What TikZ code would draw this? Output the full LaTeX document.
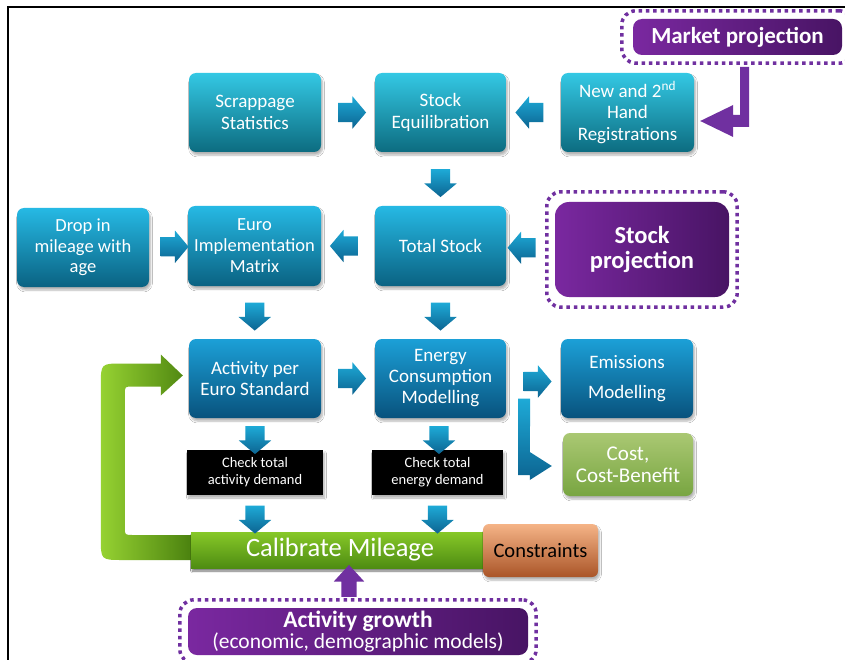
\documentclass[tikz,border=0pt]{standalone}
\usepackage{fontspec}
\setmainfont{Carlito}
\usetikzlibrary{shapes.arrows,shadows.blur,calc,fit}

\definecolor{tealT}{RGB}{52,200,228}
\definecolor{tealB}{RGB}{12,108,128}
\definecolor{midT}{RGB}{38,185,228}
\definecolor{midB}{RGB}{10,98,130}
\definecolor{bluT}{RGB}{28,160,215}
\definecolor{bluB}{RGB}{8,82,125}
\definecolor{arrT}{RGB}{30,170,215}
\definecolor{arrB}{RGB}{12,100,145}
\definecolor{costT}{RGB}{170,200,115}
\definecolor{costB}{RGB}{120,165,65}
\definecolor{conT}{RGB}{245,180,135}
\definecolor{conB}{RGB}{170,85,40}
\definecolor{calT}{RGB}{135,200,40}
\definecolor{calB}{RGB}{78,140,18}
\definecolor{gL}{RGB}{150,210,50}
\definecolor{gD}{RGB}{75,130,15}
\definecolor{purL}{RGB}{122,40,160}
\definecolor{purD}{RGB}{72,20,100}
\definecolor{purDot}{RGB}{112,48,160}

\tikzset{
  softshadow/.style={blur shadow={shadow xshift=1.5pt, shadow yshift=-3pt,
      shadow blur steps=6, shadow opacity=30}},
  boxbase/.style={rounded corners=7pt, align=center, text=white, inner sep=2pt,
      font=\fontsize{19}{21.5}\selectfont, minimum width=132pt,
      minimum height=79pt, softshadow},
  tealbox/.style={boxbase, top color=tealT, bottom color=tealB},
  midbox/.style={boxbase, top color=midT, bottom color=midB},
  bluebox/.style={boxbase, top color=bluT, bottom color=bluB},
  checkbox/.style={fill=black, text=white, align=center, inner sep=2pt,
      minimum width=136pt, minimum height=45pt,
      font=\fontsize{14.5}{17}\selectfont, softshadow},
  purplebox/.style={rounded corners=9pt, left color=purL, right color=purD,
      text=white, align=center, inner sep=2pt},
  dotframe/.style={draw=purDot, line width=3.5pt,
      dash pattern=on 3.5pt off 3.8pt, rounded corners=14pt},
  barrow/.style={single arrow, single arrow head extend=6.5pt,
      single arrow tip angle=100, minimum height=28pt,
      inner xsep=0pt, inner ysep=9.5pt, top color=arrT, bottom color=arrB},
  parrow/.style={single arrow, single arrow head extend=7.5pt,
      single arrow tip angle=85, minimum height=32pt,
      inner xsep=0pt, inner ysep=7.5pt, fill=purDot},
  calbar/.style={top color=calT, bottom color=calB, text=white,
      minimum width=298pt, minimum height=36pt, inner sep=0pt,
      font=\fontsize{26.5}{28}\selectfont, softshadow},
}

\begin{document}
\begin{tikzpicture}[x=1pt,y=-1pt]
\clip (0,0) rectangle (845,660);
\fill[white] (0,0) rectangle (845,660);

% frame lines
\draw[line width=1.8pt] (8,662) -- (8,7) -- (847,7);

% first row
\node[tealbox] (scrap) at (255,112.5) {Scrappage\\Statistics};
\node[tealbox, minimum width=131pt] (equil) at (440.5,112.5) {Stock\\Equilibration};
\node[tealbox, minimum width=133pt] (reg) at (627.5,112.5) {New and 2\textsuperscript{nd}\\Hand\\Registrations};

% second row
\node[midbox, font=\fontsize{18.5}{20.5}\selectfont] (drop) at (83,247.5) {Drop in\\mileage with\\age};
\node[midbox, minimum width=133pt, minimum height=80pt, font=\fontsize{18.5}{21}\selectfont] (euro) at (254.5,246) {Euro\\Implementation\\Matrix};
\node[midbox, minimum width=131pt, minimum height=80pt] (total) at (440.5,246) {Total Stock};

% third row
\node[bluebox] (act) at (255,378.5) {Activity per\\Euro Standard};
\node[bluebox, minimum width=131pt, font=\fontsize{19}{21}\selectfont] (energy) at (440.5,378.5) {Energy\\Consumption\\Modelling};
\node[bluebox, font=\fontsize{19}{30}\selectfont] (emis) at (627,378.5) {Emissions\\Modelling};
\node[boxbase, top color=costT, bottom color=costB, minimum width=130pt,
      minimum height=63pt, font=\fontsize{21}{22}\selectfont] (cost) at (628,464.5) {Cost,\\Cost-Benefit};

% checks
\node[checkbox] (chka) at (255,472.5) {Check total\\activity demand};
\node[checkbox, minimum width=131pt] (chke) at (437.5,472.5) {Check total\\energy demand};

% calibration bar (placed first so the loop can refer to it)
\node[calbar] (calib) at (340,550) {Calibrate Mileage};

% green feedback loop from calibration back to activity
\coordinate (ut) at ($(act.west)+(-6,-3)$);
\coordinate (uo) at ($(calib.west)+(0,10)$);
\coordinate (ui) at ($(calib.west)+(0,-15)$);
\coordinate (uob) at (ut|-uo);
\coordinate (uib) at (ut|-ui);
\path[left color=gL, right color=gD]
  (uo) -- ($(uob)+(-60,0)$) .. controls ($(uob)+(-82,0)$) .. ($(uob)+(-82,-22)$)
  -- ($(ut)+(-82,10)$) .. controls ($(ut)+(-82,-12)$) .. ($(ut)+(-60,-12)$)
  -- ($(ut)+(-22,-12)$) -- ($(ut)+(-22,-21)$) -- (ut) -- ($(ut)+(-22,20)$)
  -- ($(ut)+(-22,11)$) -- ($(ut)+(-50,11)$) .. controls ($(ut)+(-58,11)$) .. ($(ut)+(-58,19)$)
  -- ($(uib)+(-58,-8)$) .. controls ($(uib)+(-58,0)$) .. ($(uib)+(-50,0)$)
  -- (ui) -- cycle;

% bar drawn again on top of the loop end
\node[calbar] at (calib) {Calibrate Mileage};

\node[boxbase, top color=conT, bottom color=conB, text=black, minimum width=115pt,
      minimum height=53pt, rounded corners=6pt,
      font=\fontsize{20.5}{22}\selectfont] (constr) at (540.5,550.5) {Constraints};

% purple projections
\node[purplebox, minimum width=209pt, minimum height=36pt,
      font=\bfseries\fontsize{23}{26}\selectfont] (market) at (737.5,37) {Market projection};
\node[dotframe, fit=(market), inner xsep=11pt, inner ysep=8pt] (marketfr) {};

\node[purplebox, rounded corners=14pt, minimum width=174pt, minimum height=95pt,
      font=\bfseries\fontsize{24.5}{25}\selectfont] (stockp) at (642,249.5) {Stock\\projection};
\node[dotframe, fit=(stockp), inner xsep=8pt, inner ysep=10pt] (stockpfr) {};

\node[purplebox, minimum width=340pt, minimum height=47pt,
      font=\fontsize{21.5}{21.5}\selectfont] (growth) at (358,631.5)
      {{\bfseries\fontsize{23.5}{21.5}\selectfont Activity growth}\\(economic, demographic models)};
\node[dotframe, fit=(growth), inner xsep=8pt, inner ysep=8pt] (growthfr) {};

% block arrows between boxes
\coordinate (ca) at (chka.south |- calib.north);
\coordinate (ce) at (chke.south |- calib.north);
\node[barrow] (a1) at ($(scrap.east)!.5!(equil.west)$) {};
\node[barrow, rotate=180] (a2) at ($(reg.west)!.5!(equil.east)$) {};
\node[barrow, rotate=-90] (a3) at ($(equil.south)!.5!(total.north)$) {};
\node[barrow] (a4) at ($(drop.east)!.5!(euro.west)+(2,0)$) {};
\node[barrow, rotate=180] (a5) at ($(total.west)!.5!(euro.east)$) {};
\node[barrow, rotate=180] (a6) at ($(stockpfr.west)!.5!(total.east)$) {};
\node[barrow, rotate=-90] (a7) at ($(euro.south)!.5!(act.north)$) {};
\node[barrow, rotate=-90] (a8) at ($(total.south)!.5!(energy.north)$) {};
\node[barrow] (a9) at ($(act.east)!.5!(energy.west)$) {};
\node[barrow, rotate=-90] (a10) at ($(act.south)!.5!(chka.north)+(0,2)$) {};
\node[barrow, rotate=-90] (a11) at ($(energy.south)!.5!(chke.north)+(0,2)$) {};
\node[barrow, rotate=-90] (a12) at ($(chka.south)!.5!(ca)+(0,2)$) {};
\node[barrow, rotate=-90] (a13) at ($(chke.south)!.5!(ce)+(0,2)$) {};
\node[barrow] (a14) at ($(energy.east)!.5!(emis.west)+(0,3)$) {};

% branch from energy to cost
\coordinate (bt) at ($(cost.west)+(-11,1.5)$);
\coordinate (b1) at ($(energy.east)+(12,20)$);
\coordinate (bb) at ($(bt)+(0,9)$);
\coordinate (bc) at (b1 |- bb);
\path[top color=arrT, bottom color=arrB]
  (b1) -- ++(12,0) -- ($(bt)+(-22,-14)$) -- (bt) -- ($(bt)+(-22,14)$)
  -- ($(bt)+(-22,9)$) -- (bc) -- cycle;

% market projection feeding registrations
\coordinate (mt) at ($(reg.east)+(6,8.5)$);
\coordinate (ms) at ($(marketfr.south)+(0,2)$);
\coordinate (mxa) at ($(mt)+(40,0)$);
\coordinate (mxb) at ($(mt)+(49,0)$);
\coordinate (mya) at (mxa |- ms);
\coordinate (myb) at (mxb |- ms);
\fill[purDot] (mya) -- (myb) -- ($(mt)+(49,6)$)
  -- ($(mt)+(33,6)$) -- ($(mt)+(33,16)$) -- (mt) -- ($(mt)+(33,-16)$)
  -- ($(mt)+(33,-6)$) -- ($(mt)+(40,-6)$) -- cycle;

% activity growth feeding calibration
\node[parrow, rotate=90] (pa) at ($(growthfr.north)!.5!(calib.south)+(0,2)$) {};
\end{tikzpicture}
\end{document}
